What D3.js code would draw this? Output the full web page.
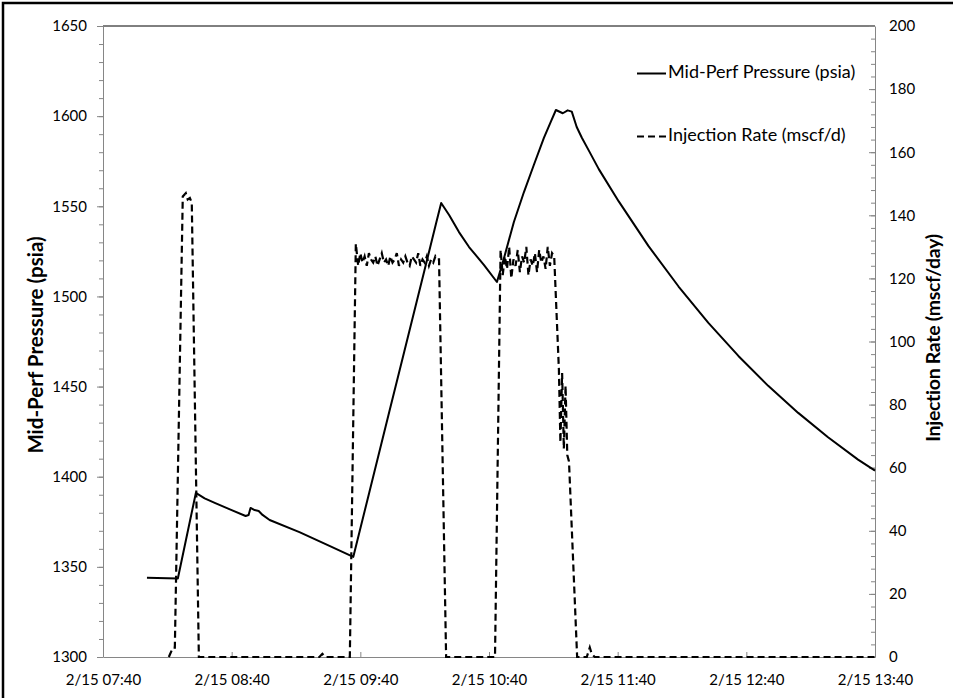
<!DOCTYPE html>
<html><head><meta charset="utf-8">
<script src="https://cdn.jsdelivr.net/npm/d3@7"></script>
<style>
body{margin:0;background:#fff}
svg{display:block}
text{font-family:Lato,"Liberation Sans",sans-serif;fill:#000}
</style>
</head><body>
<svg id="chart" width="953" height="698"></svg>
<script>
// ---- data (minutes after 2/15 07:40) ----
const xTickMinutes = [0, 60, 120, 180, 240, 300, 360];
const xTickLabels = ["2/15 07:40","2/15 08:40","2/15 09:40","2/15 10:40","2/15 11:40","2/15 12:40","2/15 13:40"];
const pressureTicks = [1300,1350,1400,1450,1500,1550,1600,1650];
const rateTicks = [0,20,40,60,80,100,120,140,160,180,200];

const pressureMinutes = [20.5,34.9,43.3,47.4,52.1,60.0,66.5,67.9,68.8,70.7,72.6,74.4,77.7,91.6,105.6,116.7,
  124.2,133.5,140.5,149.8,155.3,157.7,161.4,166.0,170.7,177.7,183.7,
  187.0,191.6,196.3,200.9,205.6,208.8,211.2,214.4,216.7,218.6,220.9,223.3,226.5,
  231.2,240.5,254.4,268.4,282.3,296.3,310.2,324.2,338.1,352.1,360];
const pressureValues = [1344,1343.5,1391,1388,1385.5,1381.5,1378.2,1378.8,1382.7,1381.5,1381,1378.8,1376,1369.3,1361.6,1355.5,
  1391.4,1436,1469.5,1514,1540.4,1551.8,1545.2,1535.7,1527.4,1517.4,1508,
  1521.3,1541.3,1557.9,1572.9,1587.9,1596.8,1603.4,1601.6,1603.2,1602.5,1594,1588,1581,
  1570.6,1552.7,1527.9,1505.5,1485.3,1467,1450.4,1435.4,1421.9,1409.5,1403.4];

const rateMinutes = [30.7,32.6,33.5,37.2,38.6,39.5,40.5,41.4,44.7,100.9,102.3,103.7,115.1,117.9,
  119,120,121,122,123,124,125,126,127,128,129,130,131,132,133,134,135,136,137,138,139,140,
  141,142,143,144,145,146,147,148,149,150,151,152,153,154,155,156,156.7,160.0,
  182.8,185.4,186.4,187.4,188.4,189.4,190.4,191.4,192.4,193.4,194.4,195.4,196.4,197.4,198.4,
  199.4,200.4,201.4,202.4,203.4,204.4,205.4,206.4,207.4,208.4,209.4,210.4,
  212.6,213.3,214.1,214.9,215.7,216.5,217.3,221.1,225.6,227.0,227.9,229.3,360];
const rateValues = [0,3,3,146,147,145,145.5,144,0,0,1,0,0,131,
  124,128,125,127,124,128,126,125,127,124,126,128,125,126,124,127,125,126,128,124,126,125,
  127,125,124,127,126,125,128,124,126,125,127,124,126,125,127,126,126,0,
  0,129,121,127,123,130,120,126,124,129,122,127,125,130,121,
  126,124,128,122,129,125,127,123,130,124,128,127,
  91,68,90,66,86,64,62,0,0,3,1,0,0];

// ---- layout ----
const W = 953, H = 698;
const L = 103, R = 875, T = 26, B = 657;
const base = new Date(2015, 1, 15, 7, 40);
const toDate = m => new Date(base.getTime() + m * 60000);

const svg = d3.select("#chart");
const x = d3.scaleTime().domain([toDate(0), toDate(360)]).range([L, R]);
const yP = d3.scaleLinear().domain([1300, 1650]).range([B, T]);
const yR = d3.scaleLinear().domain([0, 200]).range([B, T]);

// outer border
svg.append("path").attr("d", `M3,${H+5}V3H${W+5}`).attr("fill","none").attr("stroke","#000").attr("stroke-width",2.5);

// plot top border
svg.append("line").attr("x1",L).attr("x2",R).attr("y1",T).attr("y2",T).attr("stroke","#000").attr("stroke-width",1);

const grey = "#868686";
function styleAxis(g){
  g.select(".domain").attr("stroke", grey).attr("stroke-width",1);
  g.selectAll(".tick line").attr("stroke", grey);
  g.selectAll("text").style("font-size","15px").attr("fill","#000");
}

// minor ticks left
svg.append("g").attr("transform",`translate(${L},0)`)
  .call(d3.axisLeft(yP).tickValues(d3.range(1300,1651,10)).tickSize(4).tickFormat(""))
  .call(g=>{g.select(".domain").remove(); g.selectAll(".tick line").attr("stroke",grey);});
// left axis
svg.append("g").attr("transform",`translate(${L},0)`)
  .call(d3.axisLeft(yP).tickValues(pressureTicks).tickSizeInner(6).tickSizeOuter(0).tickPadding(10).tickFormat(d3.format("d")))
  .call(styleAxis);

// minor ticks right
svg.append("g").attr("transform",`translate(${R},0)`)
  .call(d3.axisRight(yR).tickValues(d3.range(0,201,4)).tickSize(-4).tickFormat(""))
  .call(g=>{g.select(".domain").remove(); g.selectAll(".tick line").attr("stroke",grey);});
// right axis
svg.append("g").attr("transform",`translate(${R},0)`)
  .call(d3.axisRight(yR).tickValues(rateTicks).tickSizeInner(-6).tickSizeOuter(0).tickPadding(14).tickFormat(d3.format("d")))
  .call(styleAxis);

// bottom axis
svg.append("g").attr("transform",`translate(0,${B})`)
  .call(d3.axisBottom(x).tickValues(xTickMinutes.map(toDate)).tickSizeInner(-5).tickSizeOuter(0).tickPadding(17)
    .tickFormat((d,i)=>xTickLabels[i]))
  .call(styleAxis);

// axis titles
svg.append("text").attr("transform",`translate(38,345) rotate(-90)`)
  .attr("text-anchor","middle").attr("dominant-baseline","middle")
  .style("font-size","20.5px").style("font-weight","bold").text("Mid-Perf Pressure (psia)");
svg.append("text").attr("transform",`translate(935,338) rotate(-90)`)
  .attr("text-anchor","middle").attr("dominant-baseline","middle")
  .style("font-size","19.5px").style("font-weight","bold").style("letter-spacing","-0.3px").text("Injection Rate (mscf/day)");

// series
const pressureData = pressureMinutes.map((m,i)=>({t:toDate(m), v:pressureValues[i]}));
const rateData = rateMinutes.map((m,i)=>({t:toDate(m), v:rateValues[i]}));

svg.append("path").datum(rateData)
  .attr("d", d3.line().x(d=>x(d.t)).y(d=>yR(d.v)))
  .attr("fill","none").attr("stroke","#000").attr("stroke-width",2.2).attr("stroke-dasharray","7,4");

svg.append("path").datum(pressureData)
  .attr("d", d3.line().x(d=>x(d.t)).y(d=>yP(d.v)))
  .attr("fill","none").attr("stroke","#000").attr("stroke-width",2).attr("stroke-linejoin","round");

// legend
const lg = svg.append("g");
lg.append("line").attr("x1",637).attr("x2",666).attr("y1",73.5).attr("y2",73.5).attr("stroke","#000").attr("stroke-width",2);
lg.append("text").attr("x",668).attr("y",73.5).attr("dominant-baseline","middle").style("font-size","18px").text("Mid-Perf Pressure (psia)");
lg.append("line").attr("x1",637).attr("x2",666).attr("y1",136.5).attr("y2",136.5).attr("stroke","#000").attr("stroke-width",2.2).attr("stroke-dasharray","7,4");
lg.append("text").attr("x",668).attr("y",136.5).attr("dominant-baseline","middle").style("font-size","18px").text("Injection Rate (mscf/d)");
</script>
</body></html>
